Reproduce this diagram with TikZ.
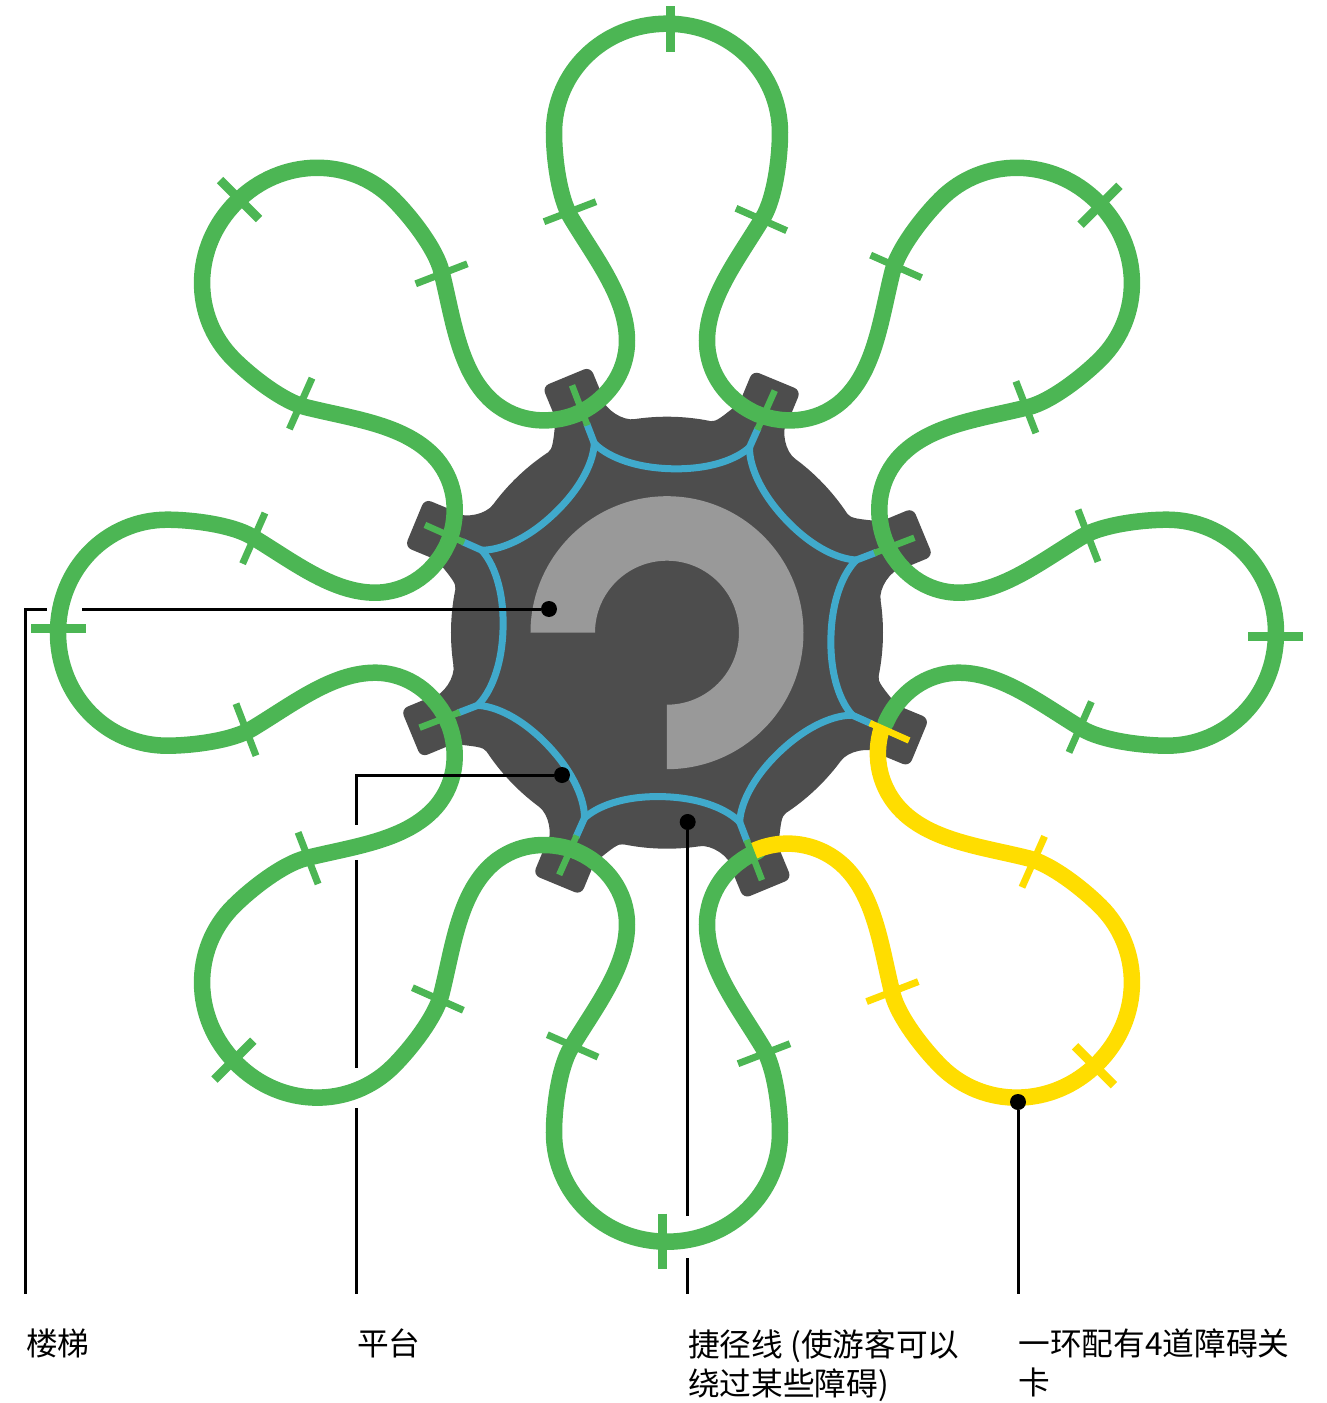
\documentclass[tikz,border=0pt]{standalone}
\usepackage{fontspec}
\setmainfont{Noto Sans CJK SC}
\usetikzlibrary{positioning}
\definecolor{bodygray}{RGB}{77,77,77}
\definecolor{ringgray}{RGB}{153,153,153}
\definecolor{shortblue}{RGB}{64,170,204}
\definecolor{trackgreen}{RGB}{76,182,84}
\definecolor{trackgold}{RGB}{255,221,0}
\tikzset{
  x=1pt, y=1pt,
  bodyfill/.style={fill=bodygray},
  stairbox/.style={fill=bodygray, rounded corners=7pt},
  ringfill/.style={fill=ringgray},
  shortcut/.style={draw=shortblue, line width=7pt},
  track/.style={draw=#1, line width=16.5pt, line cap=round},
  gate/.style={draw=#1, line width=7pt},
  topgate/.style={draw=#1, line width=9pt},
  stairgate/.style={draw=#1, line width=6.5pt},
  leader/.style={draw=black, line width=3pt},
  dotmark/.style={shape=circle, fill=black, minimum size=16pt, inner sep=0pt},
  callout/.style={align=left, inner sep=0pt, font=\fontsize{31.7}{39}\selectfont}
}
\begin{document}
\begin{tikzpicture}
  \useasboundingbox (-667,-770.3) rectangle (659,632.7);

  % platform with its eight stair arms
  \fill[bodyfill] (0,0) circle (216);
  \foreach \k in {0,...,7} {
    \begin{scope}[rotate=-22.5-45*\k]
      \fill[bodyfill] (-41,212) .. controls (-35,213.5) and (-32,220) .. (-20,242) -- (30,242) .. controls (28,230) and (40,212.5) .. (52,209.6) -- cycle;
      \fill[stairbox] (-21,235) rectangle (31,275);
    \end{scope}
  }
  \fill[ringfill] (-136.5,0) arc (180:-90:136.5) -- (0,-72) arc (-90:180:72) -- cycle;

  % shortcut lines
  \foreach \k in {0,...,7} {
    \begin{scope}[rotate=-1.5-45*\k]
      \draw[shortcut] (-77.7,187.5) .. controls (-66,176) and (-40,164) .. (0,164) .. controls (40,164) and (66,176) .. (77.7,187.5);
    \end{scope}
    \begin{scope}[rotate=-24-45*\k]
      \draw[shortcut] (0,200) -- (0,224);
    \end{scope}
  }

  % the loops
  \foreach \k in {0,1,2,4,5,6,7} {
    \begin{scope}[rotate=-45*\k]
      \draw[track=trackgreen] (-90.5,218.6) .. controls (-60.5,231.6) and (-40,259.3) .. (-40,292)
        .. controls (-40,335) and (-72,375) .. (-96,415)
        .. controls (-108,435) and (-113,475) .. (-113,500)
        .. controls (-113,560) and (-64,609) .. (0,609)
        .. controls (64,609) and (113,560) .. (113,500)
        .. controls (113,475) and (108,435) .. (96,415)
        .. controls (72,375) and (40,335) .. (40,292)
        .. controls (40,259.3) and (60.5,231.6) .. (90.5,218.6);
    \end{scope}
  }
  \begin{scope}[rotate=-135]
    \draw[track=trackgold, line cap=butt] (-84.2,219.5) .. controls (-57,233.6) and (-40,261.4) .. (-40,292)
      .. controls (-40,335) and (-72,375) .. (-96,415)
      .. controls (-108,435) and (-113,475) .. (-113,500)
      .. controls (-113,560) and (-64,609) .. (0,609)
      .. controls (64,609) and (113,560) .. (113,500)
      .. controls (113,475) and (108,435) .. (96,415)
      .. controls (72,375) and (40,335) .. (40,292)
      .. controls (40,256.9) and (62.4,226) .. (95.6,214.7);
  \end{scope}

  % gates on the loops and at the stairs
  \begin{scope}
    \clip (-667,-770.3) rectangle (659,625.7);
    \foreach \k/\gatecolor/\stepcolor in {0/trackgreen/trackgreen,1/trackgreen/trackgreen,2/trackgreen/trackgold,3/trackgold/trackgreen,4/trackgreen/trackgreen,5/trackgreen/trackgreen,6/trackgreen/trackgreen,7/trackgreen/trackgreen} {
      \begin{scope}[rotate=-45*\k]
        \draw[topgate=\gatecolor] (4,581) -- (4,636);
        \draw[gate=\gatecolor] (69,424.4) -- (119.7,402);
        \draw[gate=\gatecolor] (-123,411) -- (-71,431);
      \end{scope}
      \begin{scope}[rotate=-24-45*\k]
        \draw[stairgate=\stepcolor] (0,222) -- (0,265);
      \end{scope}
    }
  \end{scope}

  % callouts
  \node[dotmark] (dotStair) at (-118,23.7) {};
  \node[dotmark] (dotPlatform) at (-105,-142.3) {};
  \node[dotmark] (dotShortcut) at (20.7,-189.3) {};
  \node[dotmark] (dotLoop) at (351,-469.3) {};

  \coordinate (gapStairA) at (-585,23.7);
  \coordinate (gapStairB) at (-620,23.7);
  \coordinate (footStair) at (-641.3,-661.3);
  \coordinate (gapPlatformA) at (-310.3,-192.3);
  \coordinate (gapPlatformB) at (-310.3,-227.3);
  \coordinate (gapPlatformC) at (-310.3,-435.3);
  \coordinate (gapPlatformD) at (-310.3,-475.3);
  \coordinate (footPlatform) at (-310.3,-661.3);
  \coordinate (gapShortcutA) at (20.7,-583.3);
  \coordinate (gapShortcutB) at (20.7,-625.3);
  \coordinate (footShortcut) at (20.7,-661.3);
  \coordinate (footLoop) at (351,-661.3);

  \node[callout, below right=35pt and 0.3pt of footStair] (labelStair) {楼梯};
  \node[callout, below right=35pt and 0.3pt of footPlatform] (labelPlatform) {平台};
  \node[callout, below right=35pt and 0.3pt of footShortcut] (labelShortcut) {捷径线 (使游客可以\\绕过某些障碍)};
  \node[callout, below right=35pt and 0.3pt of footLoop] (labelLoop) {一环配有4道障碍关\\卡};

  \draw[leader] (dotStair) -- (gapStairA);
  \draw[leader] (gapStairB) -| (footStair);
  \draw[leader] (dotPlatform) -| (gapPlatformA);
  \draw[leader] (gapPlatformB) -- (gapPlatformC);
  \draw[leader] (gapPlatformD) -- (footPlatform);
  \draw[leader] (dotShortcut) -- (gapShortcutA);
  \draw[leader] (gapShortcutB) -- (footShortcut);
  \draw[leader] (dotLoop) -- (footLoop);
\end{tikzpicture}
\end{document}
